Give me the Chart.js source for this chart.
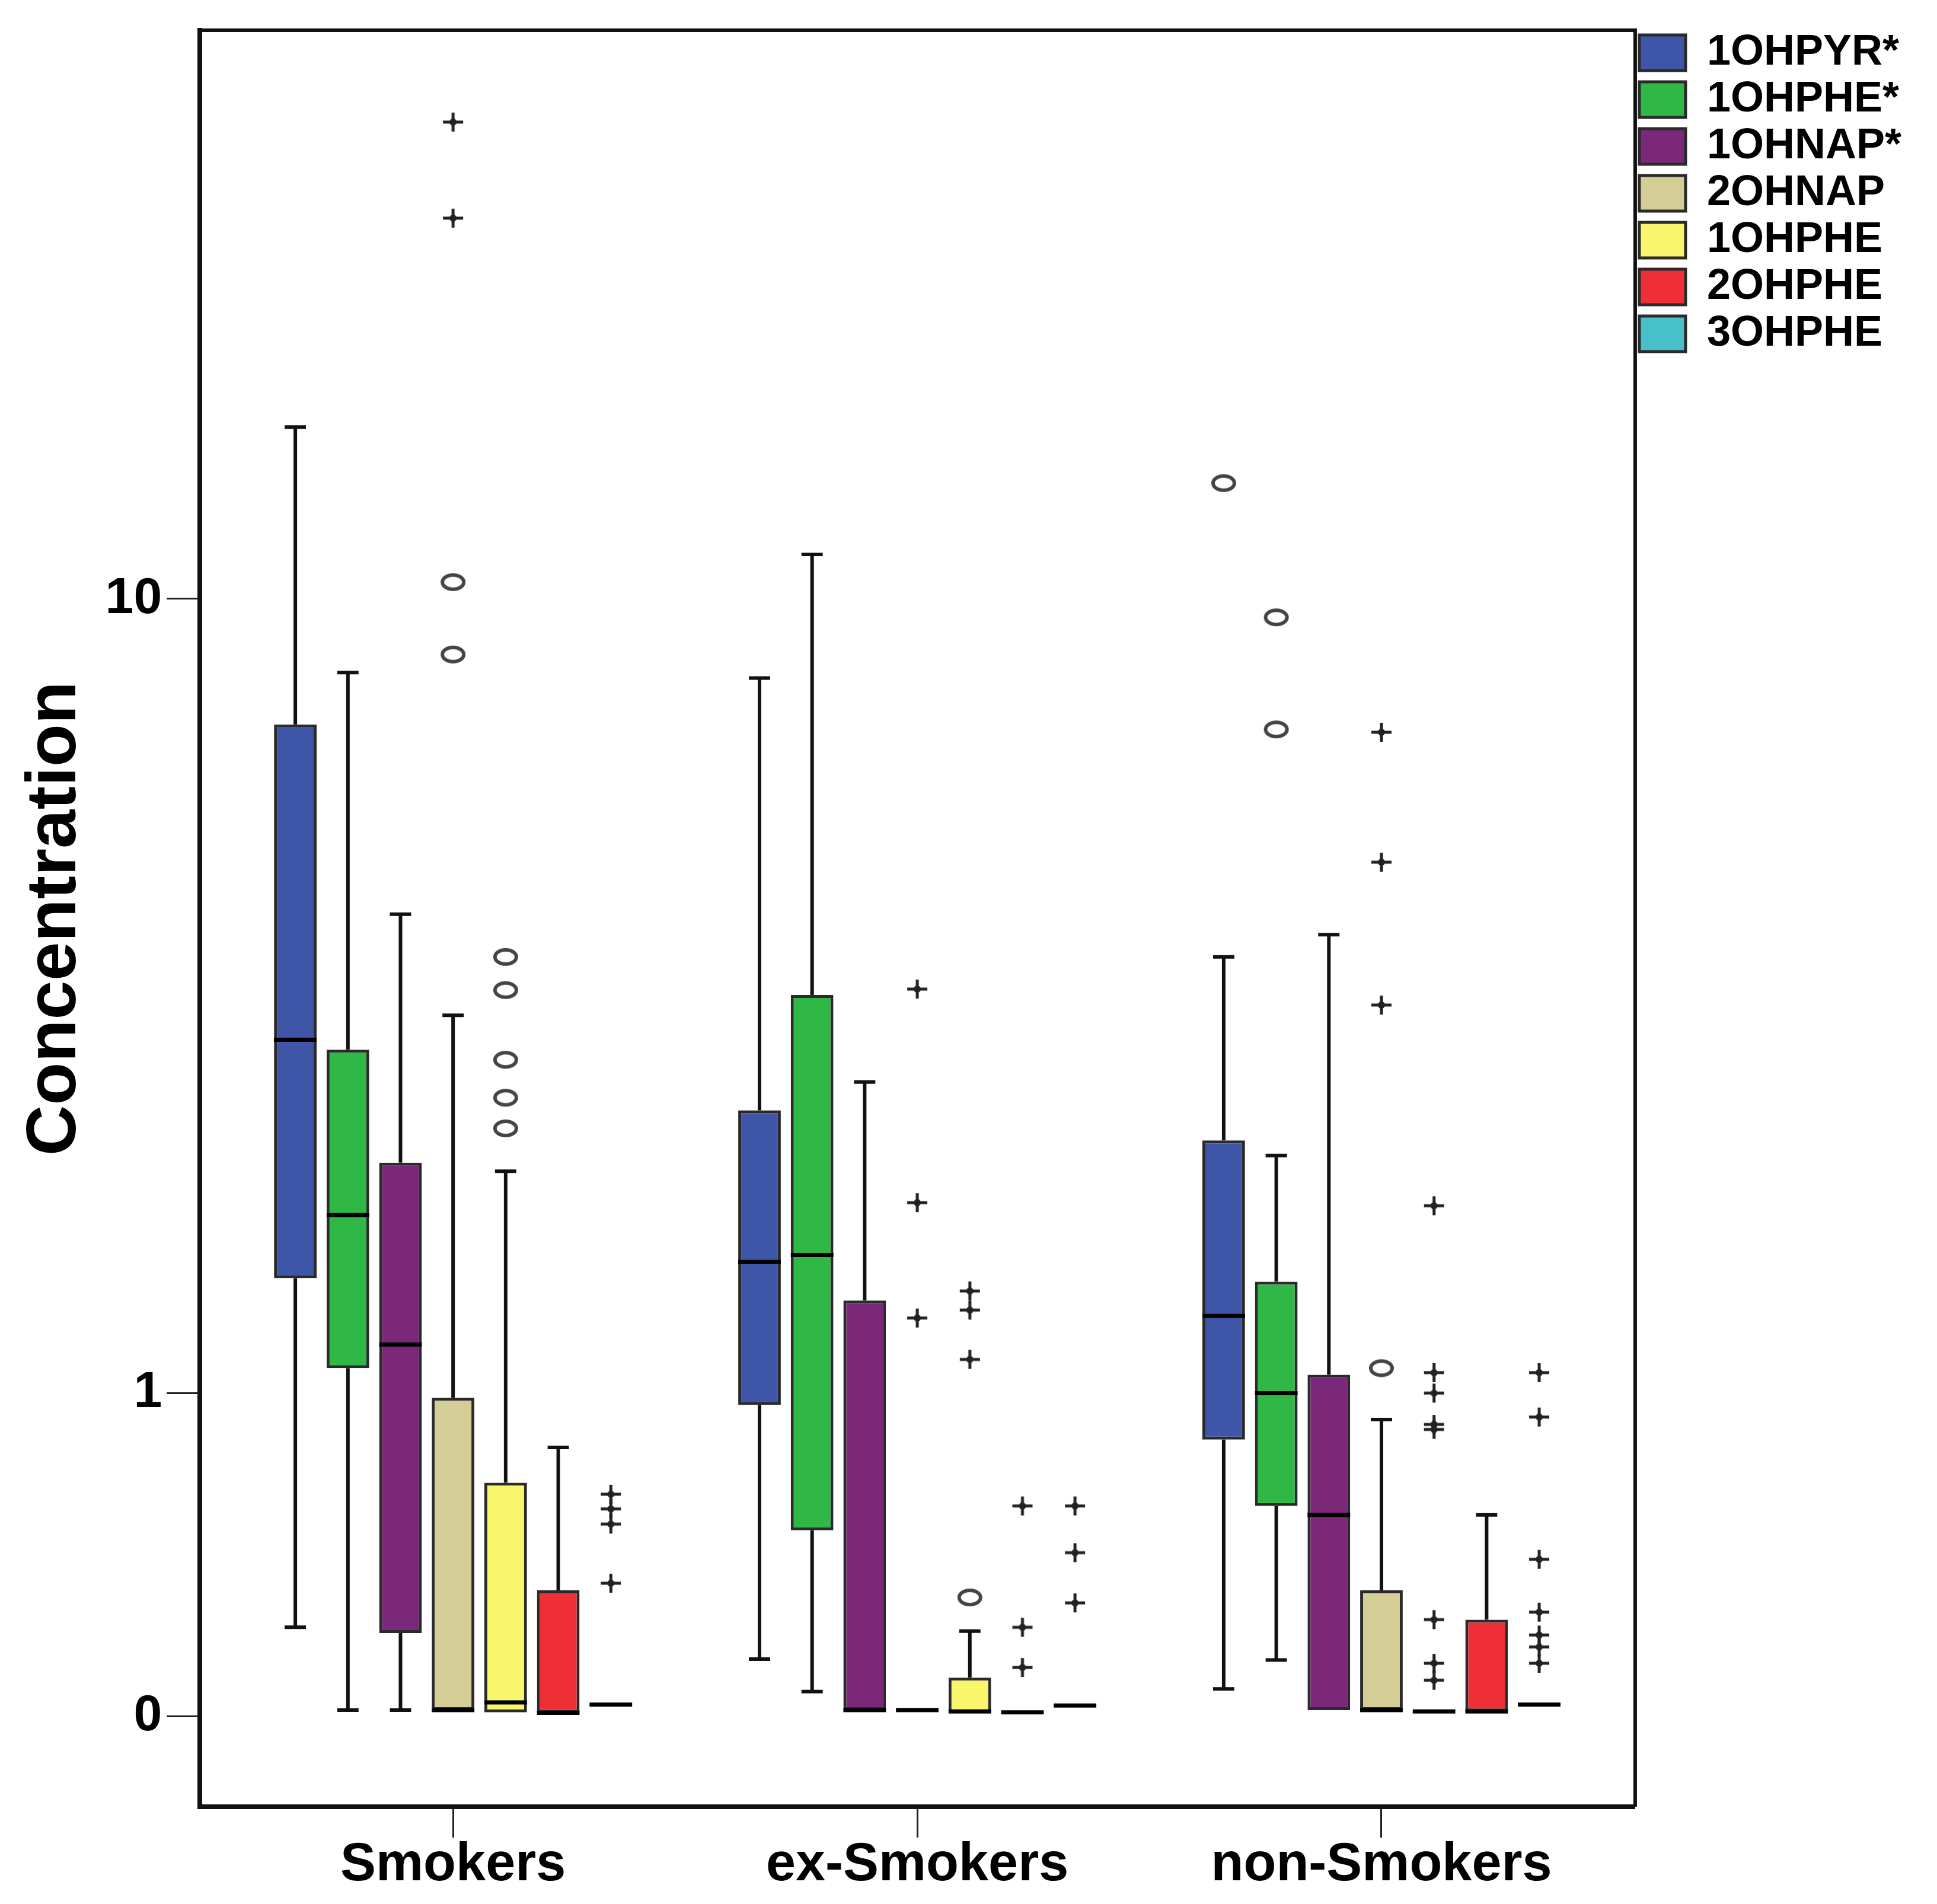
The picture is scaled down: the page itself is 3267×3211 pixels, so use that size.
<!DOCTYPE html>
<html>
<head>
<meta charset="utf-8">
<title>Concentration box plot</title>
<script src="https://cdn.jsdelivr.net/npm/chart.js@4.4.1/dist/chart.umd.min.js"></script>
<style>
  html, body { margin: 0; padding: 0; background: #fff; }
  #wrap { width: 3267px; height: 3211px; }
</style>
</head>
<body>
<div id="wrap"><canvas id="boxChart"></canvas></div>
<script>
const groups = ['Smokers', 'ex-Smokers', 'non-Smokers'];
const seriesNames = ['1OHPYR*', '1OHPHE*', '1OHNAP*', '2OHNAP', '1OHPHE', '2OHPHE', '3OHPHE'];
const seriesColors = ['#3F56A8', '#2FB846', '#7C287A', '#D4CD96', '#FAF66C', '#EE3036', '#47C1C7'];
const yTickValues = [0, 1, 10];

// one row per series, one column per group (Smokers, ex-Smokers, non-Smokers)
const whiskerLow = [
    [0.21, 0.13, 0.06],
    [0.013, 0.054, 0.128],
    [0.013, 0.013, 0.013],
    [0.013, 0.013, 0.013],
    [0.008, 0.008, 0.01],
    [0.007, 0.008, 0.01],
    [0.025, 0.023, 0.025]
];
const q1 = [
    [1.56, 0.95, 0.81],
    [1.11, 0.49, 0.57],
    [0.195, 0.013, 0.013],
    [0.013, 0.013, 0.013],
    [0.008, 0.008, 0.01],
    [0.007, 0.008, 0.01],
    [0.025, 0.023, 0.025]
];
const median = [
    [3.27, 1.65, 1.36],
    [1.93, 1.69, 1.0],
    [1.22, 0.013, 0.54],
    [0.013, 0.013, 0.013],
    [0.03, 0.01, 0.01],
    [0.007, 0.008, 0.01],
    [0.025, 0.023, 0.025]
];
const q3 = [
    [7.4, 2.67, 2.44],
    [3.18, 3.7, 1.54],
    [2.28, 1.44, 1.08],
    [0.98, 0.013, 0.31],
    [0.65, 0.086, 0.01],
    [0.31, 0.008, 0.23],
    [0.025, 0.023, 0.025]
];
const whiskerHigh = [
    [14.9, 8.28, 4.1],
    [8.39, 11.1, 2.33],
    [4.59, 2.9, 4.35],
    [3.5, 0.013, 0.89],
    [2.22, 0.2, 0.01],
    [0.78, 0.008, 0.54],
    [0.025, 0.023, 0.025]
];
const circleOutliers = [
    [[], [], [13.1]],
    [[], [], [9.57, 7.31]],
    [[], [], []],
    [[10.4, 8.76], [], [1.11]],
    [[4.1, 3.75, 3.09, 2.77, 2.53], [0.29], []],
    [[], [], []],
    [[], [], []]
];
const extremeOutliers = [
    [[], [], []],
    [[], [], []],
    [[], [], []],
    [[29.6, 23.9], [3.76, 2.01, 1.35], [7.26, 5.25, 3.6]],
    [[], [1.49, 1.39, 1.15], [1.99, 1.09, 1.0, 0.87, 0.85, 0.23, 0.12, 0.08]],
    [[], [0.57, 0.21, 0.11], []],
    [[0.61, 0.56, 0.51, 0.33], [0.57, 0.42, 0.275], [1.09, 0.9, 0.4, 0.25, 0.19, 0.16, 0.12]]
];

// the axis is log10(value + 1)
const tf = v => Math.log10(v + 1);

// marker images for outliers
function makeCircle() {
    const c = document.createElement('canvas');
    c.width = 46; c.height = 36;
    const g = c.getContext('2d');
    g.strokeStyle = '#444';
    g.lineWidth = 6;
    g.beginPath();
    g.ellipse(23, 18, 18, 12, 0, 0, Math.PI * 2);
    g.stroke();
    return c;
}
function makePlus() {
    const c = document.createElement('canvas');
    c.width = 38; c.height = 38;
    const g = c.getContext('2d');
    g.strokeStyle = '#222';
    g.lineWidth = 5;
    g.beginPath();
    g.moveTo(2, 19); g.lineTo(36, 19);
    g.moveTo(19, 3); g.lineTo(19, 35);
    g.stroke();
    g.fillStyle = '#222';
    g.beginPath();
    g.arc(19, 19, 6, 0, Math.PI * 2);
    g.fill();
    return c;
}
const circleImg = makeCircle();
const plusImg = makePlus();

const boxParts = {
    id: 'boxParts',
    afterDatasetsDraw(chart) {
        const ctx = chart.ctx;
        const yScale = chart.scales.y;
        const py = v => yScale.getPixelForValue(tf(v));
        chart.data.datasets.forEach((ds, s) => {
            const meta = chart.getDatasetMeta(s);
            meta.data.forEach((bar, i) => {
                const cx = bar.x;
                const half = bar.width / 2;
                const cap = bar.width / 4;
                ctx.save();
                ctx.strokeStyle = '#111';
                ctx.lineWidth = 6;
                ctx.beginPath();
                if (whiskerHigh[s][i] > q3[s][i]) {
                    ctx.moveTo(cx, py(q3[s][i]));
                    ctx.lineTo(cx, py(whiskerHigh[s][i]));
                    ctx.moveTo(cx - cap, py(whiskerHigh[s][i]));
                    ctx.lineTo(cx + cap, py(whiskerHigh[s][i]));
                }
                if (whiskerLow[s][i] < q1[s][i]) {
                    ctx.moveTo(cx, py(q1[s][i]));
                    ctx.lineTo(cx, py(whiskerLow[s][i]));
                    ctx.moveTo(cx - cap, py(whiskerLow[s][i]));
                    ctx.lineTo(cx + cap, py(whiskerLow[s][i]));
                }
                ctx.stroke();
                ctx.lineWidth = 7;
                ctx.strokeStyle = '#000';
                ctx.beginPath();
                ctx.moveTo(cx - half, py(median[s][i]));
                ctx.lineTo(cx + half, py(median[s][i]));
                ctx.stroke();
                circleOutliers[s][i].forEach(v => {
                    ctx.drawImage(circleImg, cx - circleImg.width / 2, py(v) - circleImg.height / 2);
                });
                extremeOutliers[s][i].forEach(v => {
                    ctx.drawImage(plusImg, cx - plusImg.width / 2, py(v) - plusImg.height / 2);
                });
                ctx.restore();
            });
        });
    },
    afterDraw(chart) {
        const {ctx, chartArea} = chart;
        ctx.save();
        ctx.strokeStyle = '#111';
        ctx.lineWidth = 6;
        ctx.beginPath();
        ctx.moveTo(chartArea.left, chartArea.top);
        ctx.lineTo(chartArea.right, chartArea.top);
        ctx.lineTo(chartArea.right, chartArea.bottom);
        ctx.stroke();
        ctx.restore();
    }
};

Chart.defaults.font.family = '"Liberation Sans", Arial, sans-serif';
Chart.defaults.color = '#000';

new Chart(document.getElementById('boxChart'), {
    type: 'bar',
    data: {
        datasets: seriesNames.map((name, s) => ({
            label: name,
            data: groups.map((g, i) => ({ x: i, y: [tf(q1[s][i]), tf(q3[s][i])] })),
            backgroundColor: seriesColors[s],
            borderColor: '#2a2a2a',
            borderWidth: 5,
            borderSkipped: false,
            categoryPercentage: 0.793,
            barPercentage: 0.81
        }))
    },
    options: {
        responsive: true,
        maintainAspectRatio: false,
        devicePixelRatio: 1,
        animation: false,
        layout: {
            padding: { top: 46, right: 50, bottom: 18, left: 24 }
        },
        plugins: {
            legend: {
                position: 'right',
                align: 'start',
                labels: {
                    boxWidth: 78,
                    boxHeight: 60,
                    padding: 7,
                    color: '#000',
                    font: { size: 72, weight: 'bold' }
                }
            },
            tooltip: { enabled: false }
        },
        scales: {
            x: {
                type: 'linear',
                min: -0.5453,
                max: 2.5466,
                offset: false,
                afterBuildTicks: sc => { sc.ticks = groups.map((g, i) => ({ value: i })); },
                ticks: {
                    callback: (v, i) => groups[i],
                    font: { size: 90, weight: 'bold', lineHeight: 1 },
                    color: '#000',
                    padding: 2,
                    maxRotation: 0,
                    autoSkip: false
                },
                grid: {
                    offset: false,
                    drawOnChartArea: false,
                    drawTicks: true,
                    tickLength: 52,
                    tickWidth: 3,
                    tickColor: '#222'
                },
                border: { display: true, width: 8, color: '#111' }
            },
            y: {
                type: 'linear',
                min: -0.0845,
                max: 1.5713,
                afterBuildTicks: sc => { sc.ticks = yTickValues.map(v => ({ value: tf(v) })); },
                ticks: {
                    callback: (v, i) => String(yTickValues[i]),
                    font: { size: 86, weight: 'bold', lineHeight: 1 },
                    color: '#000',
                    padding: 8
                },
                grid: {
                    drawOnChartArea: false,
                    drawTicks: true,
                    tickLength: 56,
                    tickWidth: 3,
                    tickColor: '#222'
                },
                border: { display: true, width: 8, color: '#111' },
                title: {
                    display: true,
                    text: 'Concentration',
                    color: '#000',
                    font: { size: 118, weight: 'bold' },
                    padding: { top: 0, bottom: 4 }
                }
            }
        }
    },
    plugins: [boxParts]
});
</script>
</body>
</html>
